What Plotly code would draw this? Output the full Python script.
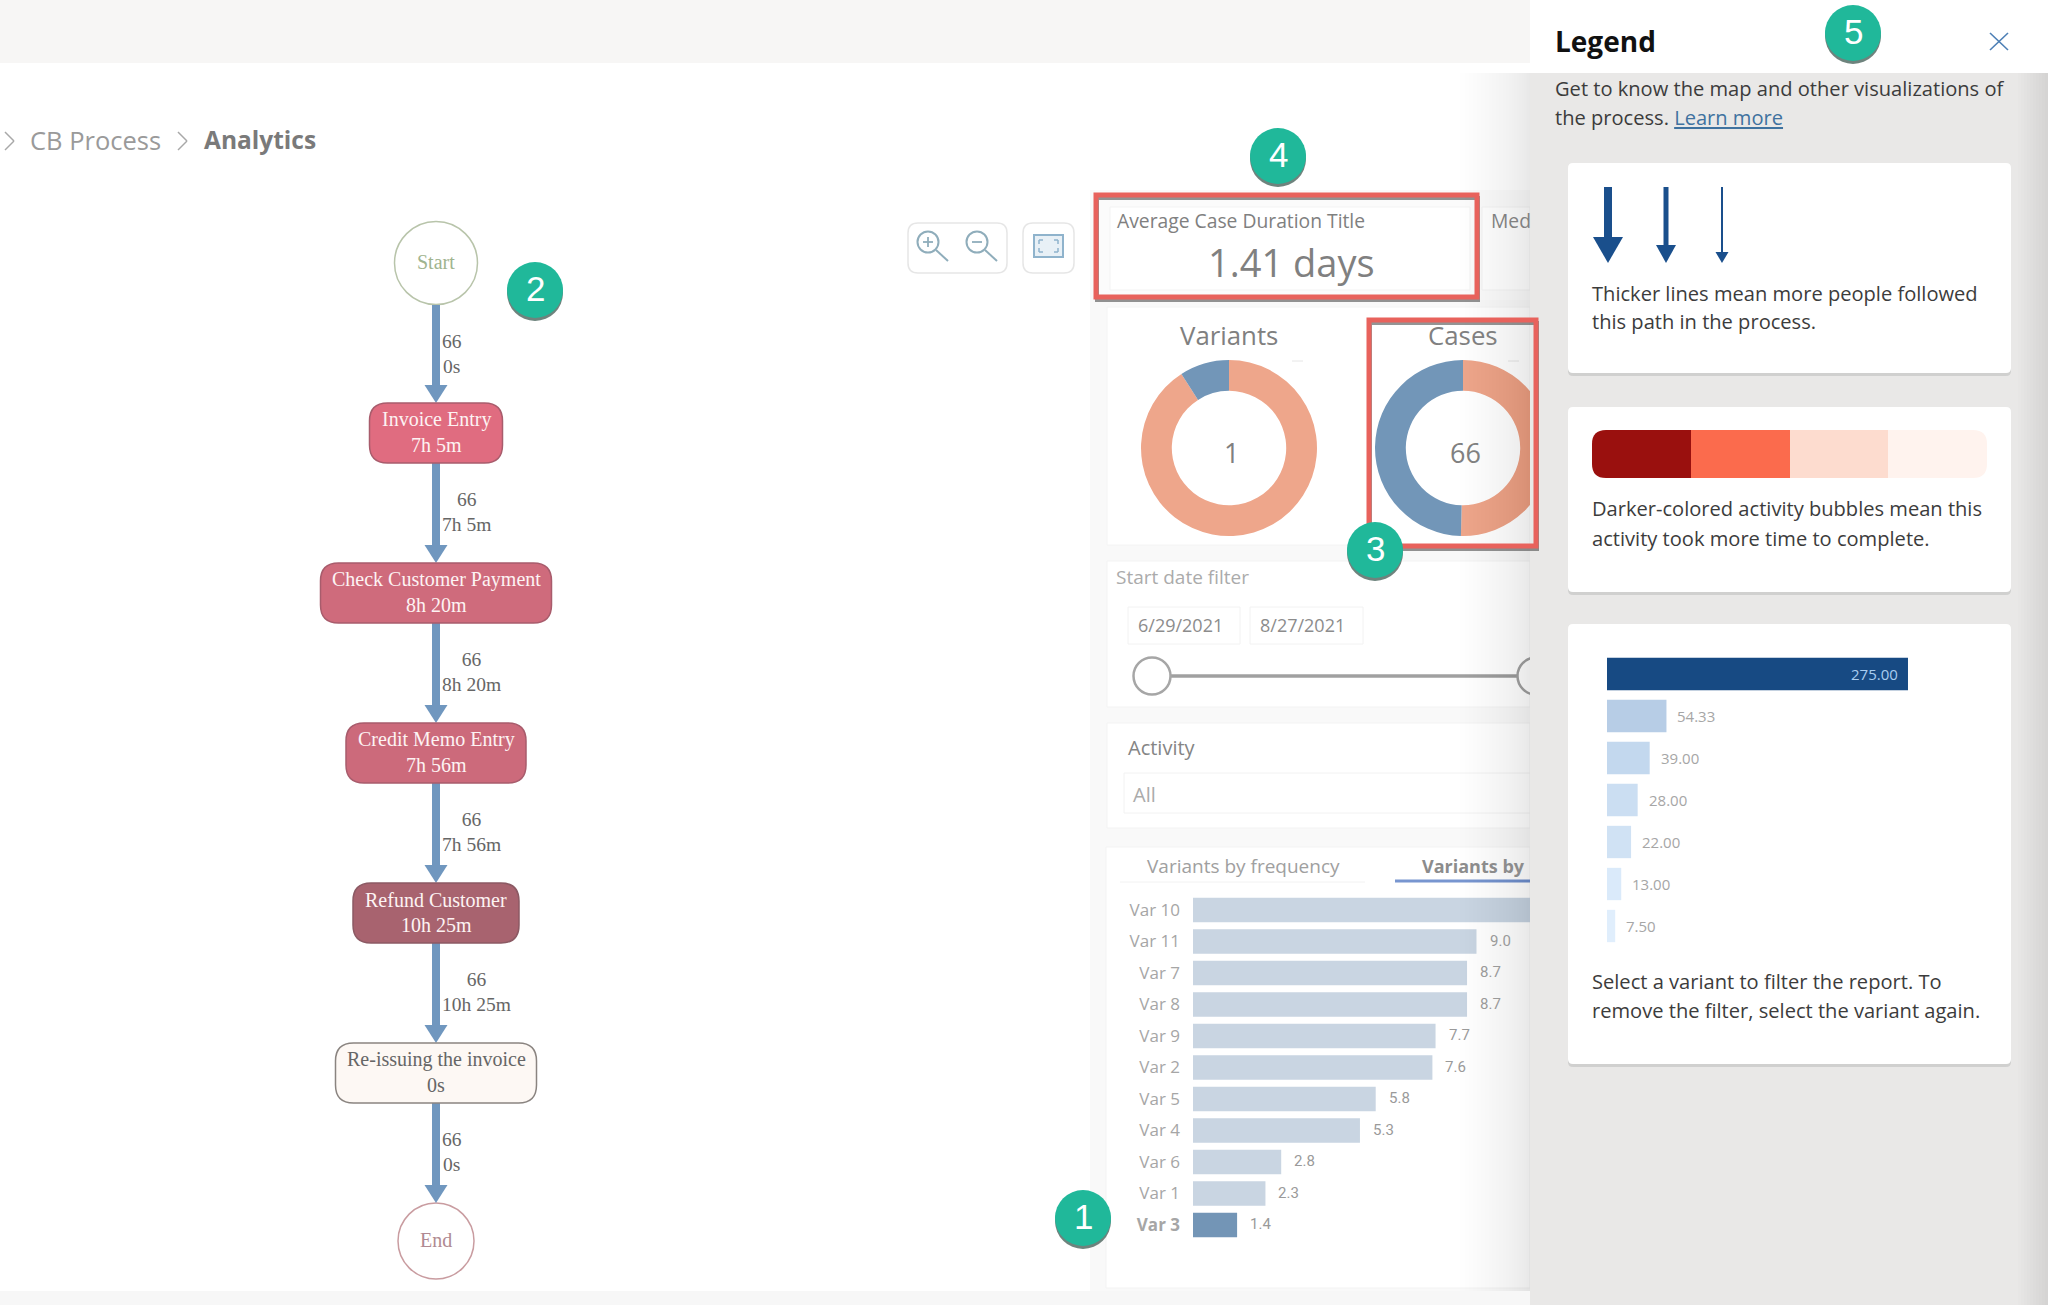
import plotly.graph_objects as go

# ---------- data ----------
VARIANTS = ["Var 10", "Var 11", "Var 7", "Var 8", "Var 9", "Var 2", "Var 5", "Var 4", "Var 6", "Var 1", "Var 3"]
VARIANT_VALUES = [11.0, 9.0, 8.7, 8.7, 7.7, 7.6, 5.8, 5.3, 2.8, 2.3, 1.4]
SELECTED_VARIANT = "Var 3"
LEGEND_BAR_VALUES = [275.00, 54.33, 39.00, 28.00, 22.00, 13.00, 7.50]
DONUT_VARIANTS = [10, 1]
DONUT_CASES = [67, 66]
NODE_NAMES = ["Invoice Entry", "Check Customer Payment", "Credit Memo Entry", "Refund Customer", "Re-issuing the invoice"]
NODE_DURATIONS = ["7h 5m", "8h 20m", "7h 56m", "10h 25m", "0s"]
EDGE_COUNTS = ["66", "66", "66", "66", "66", "66"]
EDGE_TIMES = ["0s", "7h 5m", "8h 20m", "7h 56m", "10h 25m", "0s"]
DATES = ["6/29/2021", "8/27/2021"]

# ---------- layout constants ----------
W, H = 2048, 1305
SANS = "Open Sans"
SERIF = "Liberation Serif"
NODE_HALF = [66.5, 115.5, 90, 83, 100.5]
NODE_FILL = ["#e06c80", "#cf6b7c", "#cc6a7b", "#a8636f", "#fdf8f4"]
NODE_LINE = ["#a85c6c", "#a85c6c", "#a85c6c", "#8c5a64", "#8a8480"]
NODE_TEXT = ["#fdf3f3", "#fdf3f3", "#fdf3f3", "#fdf3f3", "#666666"]
NODE_TOP0, NODE_PITCH, NODE_H = 403, 160, 60
FX = 436

shapes, annots = [], []
X = lambda x: x / W
Y = lambda y: 1 - y / H


def rrect_path(x0, y0, x1, y1, r):
    p = [f"M{X(x0+r)},{Y(y0)}", f"L{X(x1-r)},{Y(y0)}", f"Q{X(x1)},{Y(y0)} {X(x1)},{Y(y0+r)}",
         f"L{X(x1)},{Y(y1-r)}", f"Q{X(x1)},{Y(y1)} {X(x1-r)},{Y(y1)}", f"L{X(x0+r)},{Y(y1)}",
         f"Q{X(x0)},{Y(y1)} {X(x0)},{Y(y1-r)}", f"L{X(x0)},{Y(y0+r)}", f"Q{X(x0)},{Y(y0)} {X(x0+r)},{Y(y0)}", "Z"]
    return " ".join(p)


def rrect(x0, y0, x1, y1, r=0, fill="white", line=None, lw=1, layer="below", opacity=1):
    d = dict(type="path", path=rrect_path(x0, y0, x1, y1, r), xref="paper", yref="paper", fillcolor=fill,
             layer=layer, opacity=opacity, line=dict(width=lw if line else 0, color=line or "rgba(0,0,0,0)"))
    shapes.append(d)


def rect(x0, y0, x1, y1, fill="white", line=None, lw=1, layer="below", opacity=1):
    shapes.append(dict(type="rect", xref="paper", yref="paper", x0=X(x0), x1=X(x1), y0=Y(y0), y1=Y(y1), fillcolor=fill,
                       layer=layer, opacity=opacity, line=dict(width=lw if line else 0, color=line or "rgba(0,0,0,0)")))


def circle(cx, cy, r, fill="white", line=None, lw=1, layer="below", opacity=1):
    shapes.append(dict(type="circle", xref="paper", yref="paper", x0=X(cx-r), x1=X(cx+r), y0=Y(cy-r), y1=Y(cy+r),
                       fillcolor=fill, layer=layer, opacity=opacity,
                       line=dict(width=lw if line else 0, color=line or "rgba(0,0,0,0)")))


def seg(x0, y0, x1, y1, color, lw=1, layer="below"):
    shapes.append(dict(type="line", xref="paper", yref="paper", x0=X(x0), x1=X(x1), y0=Y(y0), y1=Y(y1), layer=layer,
                       line=dict(width=lw, color=color)))


def poly(pts, fill, layer="below"):
    path = "M" + " L".join(f"{X(a)},{Y(b)}" for a, b in pts) + " Z"
    shapes.append(dict(type="path", path=path, xref="paper", yref="paper", fillcolor=fill, layer=layer, line=dict(width=0)))


def txt(x, y, s, size=18, color="#777777", family=SANS, anchor="left", align=None):
    annots.append(dict(x=X(x), y=Y(y - 1.3), xref="paper", yref="paper", text=s, showarrow=False, xanchor=anchor, yanchor="middle",
                       align=align or anchor, borderpad=0, borderwidth=0,
                       font=dict(size=size, color=color, family=family)))


# ---------- page background ----------
rect(0, 0, 1530, 63, "#f7f6f5")
rect(0, 1291, 1530, 1305, "#f7f7f7")
rect(1090, 63, 1530, 1291, "#f9f9f9")
rect(1090, 63, 1530, 190, "#ffffff")

# breadcrumb
for cx in (5, 178):
    seg(cx, 132, cx + 9, 141, "#a8a8a8", 1.5)
    seg(cx + 9, 141, cx, 150, "#a8a8a8", 1.5)
txt(30, 141, "CB Process", 25.5, "#9a9a9a")
txt(204, 141, "<b>Analytics</b>", 24.5, "#7a7a7a")

# zoom toolbar
rrect(908, 223, 1007, 273, 10, "white", "#e6e6e6", 1.5)
rrect(1023, 223, 1074, 273, 10, "white", "#e6e6e6", 1.5)
for cx in (928, 977):
    circle(cx, 242, 10.5, "rgba(0,0,0,0)", "#8fadbb", 2)
    seg(cx + 8, 250, cx + 20, 261, "#8fadbb", 2)
    seg(cx - 5, 242, cx + 5, 242, "#8fadbb", 1.8)
seg(928, 237, 928, 247, "#8fadbb", 1.8)
rect(1034, 235, 1063, 257, "#e8f0f6", "#8fb3cc", 2)
for (ax, ay, sx, sy) in ((1039, 240, 1, 1), (1058, 240, -1, 1), (1039, 252, 1, -1), (1058, 252, -1, -1)):
    seg(ax, ay, ax + 4 * sx, ay, "#8fb3cc", 1.5)
    seg(ax, ay, ax, ay + 4 * sy, "#8fb3cc", 1.5)

# ---------- process map ----------
circle(FX, 263, 41.5, "white", "#b8c4aa", 1.5)
txt(FX, 263, "Start", 20, "#9fb48f", SERIF, "center")
circle(FX, 1241, 38, "white", "#c99ca0", 1.5)
txt(FX, 1241, "End", 20, "#b08a92", SERIF, "center")

tops = [NODE_TOP0 + i * NODE_PITCH for i in range(len(NODE_NAMES))]
starts = [305] + [t + NODE_H for t in tops]
ends = tops + [1203]
for s, e in zip(starts, ends):
    rect(FX - 4, s, FX + 4, e - 16, "#7097bf")
    poly([(FX - 11.5, e - 18), (FX + 11.5, e - 18), (FX, e)], "#7097bf")
for i, (n, d) in enumerate(zip(NODE_NAMES, NODE_DURATIONS)):
    t = tops[i]
    rrect(FX - NODE_HALF[i], t, FX + NODE_HALF[i], t + NODE_H, 18, NODE_FILL[i], NODE_LINE[i], 1.5)
    txt(FX, t + 18, n, 20, NODE_TEXT[i], SERIF, "center")
    txt(FX, t + 43, d, 20, NODE_TEXT[i], SERIF, "center")
for s, c, tm in zip(starts, EDGE_COUNTS, EDGE_TIMES):
    txt(442, s + 50, f"{c}<br>{tm}", 19.5, "#666666", SERIF, "left", "center")

# ---------- analytics cards ----------
rect(1095, 190, 1530, 300, "#fbfbfb")
rect(1110, 207, 1470, 290, "white", "#f3f3f3", 1)
rect(1482, 207, 1530, 290, "white", "#f3f3f3", 1)
txt(1117, 222, "Average Case Duration Title", 19.3, "#808080")
txt(1291, 263, "1.41 days", 38, "#808080", SANS, "center")
txt(1491, 222, "Med", 19.3, "#808080")

rect(1107, 307, 1530, 545, "white", "#f4f4f4", 1)
txt(1229, 336, "Variants", 25.8, "#808080", SANS, "center")
txt(1463, 336, "Cases", 25.8, "#808080", SANS, "center")
txt(1231, 454, "1", 27, "#808080", SANS, "center")
txt(1465, 454, "66", 27, "#808080", SANS, "center")
seg(1292, 361, 1303, 361, "#e6e6e6", 1)
seg(1508, 361, 1519, 361, "#e6e6e6", 1)

rect(1107, 561, 1530, 707, "white", "#f3f3f3", 1)
txt(1116, 578, "Start date filter", 19, "#ababab")
rect(1128, 607, 1240, 644, "white", "#f2f2f2", 1)
rect(1250, 607, 1363, 644, "white", "#f2f2f2", 1)
txt(1180, 626, DATES[0], 18, "#8c8c8c", SANS, "center")
txt(1302, 626, DATES[1], 18, "#8c8c8c", SANS, "center")
seg(1171, 676, 1518, 676, "#a0a0a0", 3.5)
circle(1152, 676, 18.5, "white", "#a6a6a6", 2.5)
circle(1536, 676, 18.5, "white", "#a6a6a6", 2.5)

rect(1107, 723, 1530, 828, "white", "#f3f3f3", 1)
txt(1128, 749, "Activity", 20, "#858585")
rect(1124, 773, 1530, 813, "white", "#f2f2f2", 1)
txt(1133, 796, "All", 20, "#ababab")

rect(1106, 847, 1530, 1288, "white", "#f3f3f3", 1)
txt(1243, 867, "Variants by frequency", 19, "#a0a0a0", SANS, "center")
seg(1120, 882, 1365, 882, "#f2f2f2", 1)
txt(1422, 867, "<b>Variants by</b>", 18, "#8c8c8c")
seg(1395, 881, 1530, 881, "#7896d0", 3)

# ---------- legend panel ----------
rect(1530, 0, W, H, "#e9e8e7")
rect(1530, 0, W, 73, "#ffffff")
for k in range(10):
    rect(2048 - 3 * (k + 1), 73, 2048, H, "black", opacity=0.006)
for card in ((163, 373), (407, 592), (624, 1064)):
    rrect(1568, card[0] + 2, 2011, card[1] + 3, 5, "#c9c9c9", opacity=0.8)
    rrect(1568, card[0], 2011, card[1], 5, "white")
txt(1555, 42, "<b>Legend</b>", 28, "#111111")
seg(1990, 33, 2008, 50, "#4d7fb5", 1.6)
seg(2008, 33, 1990, 50, "#4d7fb5", 1.6)
txt(1555, 90, "Get to know the map and other visualizations of", 20.1, "#3c3c3c")
txt(1555, 119, "the process. <span style='color:#3f729f'><u>Learn more</u></span>", 20.1, "#3c3c3c")

for cx, sw, hw, neck in ((1608, 8, 15, 237), (1666, 5, 10, 245), (1722, 2, 6.5, 252)):
    rect(cx - sw / 2, 187, cx + sw / 2, neck, "#1a4f8c")
    poly([(cx - hw, neck), (cx + hw, neck), (cx, 263)], "#1a4f8c")
txt(1592, 295, "Thicker lines mean more people followed", 20.1, "#3c3c3c")
txt(1592, 323, "this path in the process.", 20.1, "#3c3c3c")

rrect(1592, 430, 1987, 478, 14, "#fff3ee")
rrect(1592, 430, 1720, 478, 14, "#9a100e")
rect(1691, 430, 1790, 478, "#fb6b4d")
rect(1790, 430, 1888, 478, "#fddccf")
txt(1592, 510, "Darker-colored activity bubbles mean this", 20.1, "#3c3c3c")
txt(1592, 540, "activity took more time to complete.", 20.1, "#3c3c3c")

txt(1592, 983, "Select a variant to filter the report. To", 20.1, "#3c3c3c")
txt(1592, 1012, "remove the filter, select the variant again.", 20.1, "#3c3c3c")

# ---------- overlays above traces ----------
rect(1530, 350, 1556, 545, "#e9e8e7", layer="above")
for k in range(24):
    rect(1530 - 70 * ((k + 1) / 24) ** 1.5, 73, 1530, 1291, "black", layer="above", opacity=0.005)


def redbox(x0, y0, x1, y1):
    rect(x0 + 1, y0 + 3, x1 + 1, y1 + 3, "rgba(0,0,0,0)", "rgba(60,60,60,0.55)", 4, layer="above")
    rect(x0, y0, x1, y1, "rgba(0,0,0,0)", "#e8625c", 5, layer="above")


redbox(1096, 195, 1477, 297)
redbox(1369, 320, 1536, 546)

for cx, cy, n in ((1083, 1218, "1"), (535, 290, "2"), (1375, 550, "3"), (1278, 156, "4"), (1853, 33, "5")):
    circle(cx, cy + 3, 28, "#3d5a52", layer="above", opacity=0.75)
    circle(cx, cy, 28, "#20b89a", layer="above")
    txt(cx, cy, n, 35, "#ffffff", "Liberation Sans", "center")

# ---------- traces ----------
fig = go.Figure()
orange, blue = "#eea68b", "#7296b8"
for vals, cx, cols in ((DONUT_VARIANTS, 1229, [orange, blue]), (DONUT_CASES, 1463, [orange, blue])):
    fig.add_trace(go.Pie(values=vals, hole=0.65, sort=False, direction="clockwise", rotation=0, textinfo="none",
                         hoverinfo="skip", marker=dict(colors=cols, line=dict(width=0)),
                         domain=dict(x=[X(cx - 88), X(cx + 88)], y=[Y(536), Y(360)])))

bar_cols = ["#7395b6" if v == SELECTED_VARIANT else "#c9d5e2" for v in VARIANTS]
fig.add_trace(go.Bar(x=VARIANT_VALUES, y=VARIANTS, orientation="h", marker=dict(color=bar_cols, line=dict(width=0)),
                     xaxis="x2", yaxis="y2", hoverinfo="skip"))
leg_cols = ["#174a83", "#b7cde6", "#c3d8ee", "#cbdef2", "#d0e2f4", "#daeafa", "#e0eefc"]
leg_y = list(range(len(LEGEND_BAR_VALUES)))
fig.add_trace(go.Bar(x=LEGEND_BAR_VALUES, y=leg_y, orientation="h", marker=dict(color=leg_cols, line=dict(width=0)),
                     xaxis="x3", yaxis="y3", hoverinfo="skip"))

for v, c in zip(VARIANTS, VARIANT_VALUES):
    if v == "Var 10":
        continue  # its label is hidden behind the legend panel
    annots.append(dict(x=c, y=v, xref="x2", yref="y2", text=f"{c:.1f}", showarrow=False, xanchor="left", xshift=12,
                       yshift=1, borderpad=0, font=dict(size=15, color="#9a9a9a", family="Roboto")))
for i, c in enumerate(LEGEND_BAR_VALUES):
    inside = i == 0
    annots.append(dict(x=c, y=i, xref="x3", yref="y3", text=f"{c:.2f}", showarrow=False, borderpad=0,
                       xanchor="right" if inside else "left", xshift=-9 if inside else 10,
                       font=dict(size=15, color="#a9cdf0" if inside else "#a6a6a6", family=SANS)))

ticktext = [f"<b>{v}</b>" if v == SELECTED_VARIANT else v for v in VARIANTS]
hidden = dict(visible=False, fixedrange=True)
fig.update_layout(
    width=W, height=H, margin=dict(l=0, r=0, t=0, b=0, pad=0), autosize=False,
    paper_bgcolor="white", plot_bgcolor="rgba(0,0,0,0)", showlegend=False, bargap=0.23,
    shapes=shapes, annotations=annots,
    xaxis2=dict(domain=[X(1193), X(1530)], range=[0, 337 / 31.5], anchor="y2", **hidden),
    yaxis2=dict(domain=[Y(1240.75), Y(894.25)], anchor="x2", categoryorder="array", categoryarray=VARIANTS,
                range=[10.5, -0.5], showgrid=False, zeroline=False, showline=False, ticks="", fixedrange=True,
                tickmode="array", tickvals=VARIANTS, ticktext=ticktext, ticklabelstandoff=12,
                tickfont=dict(size=17, color="#a6a6a6", family=SANS)),
    xaxis3=dict(domain=[X(1607), X(2000)], range=[0, 393 / 1.0945], anchor="y3", **hidden),
    yaxis3=dict(domain=[Y(947), Y(653)], anchor="x3", range=[6.5, -0.5], **hidden),
)
fig.write_html("out.html", config=dict(displayModeBar=False, staticPlot=True),
               post_script="document.body.style.margin='0';document.body.style.overflow='hidden';")
